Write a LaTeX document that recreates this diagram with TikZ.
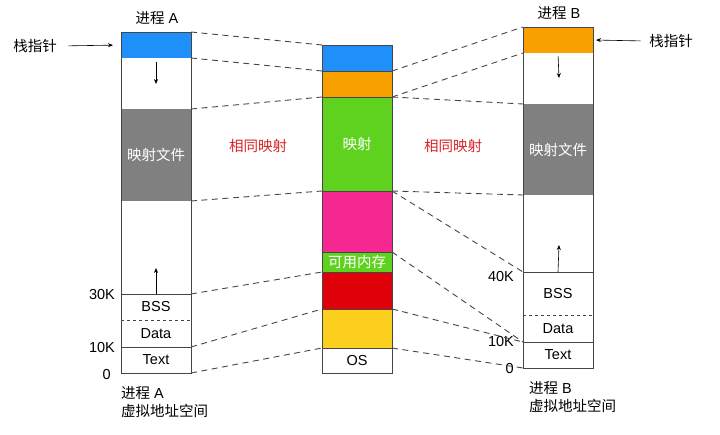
\documentclass[tikz,border=0pt]{standalone}
\usepackage{fontspec}
\setmainfont{Liberation Sans}
\newfontfamily\cjk{Noto Sans CJK SC}
\usetikzlibrary{arrows.meta,positioning,calc}

\definecolor{stkblue}{RGB}{31,144,250}
\definecolor{stkorange}{RGB}{247,160,0}
\definecolor{mapgray}{RGB}{128,128,128}
\definecolor{mapgreen}{RGB}{94,210,30}
\definecolor{mempink}{RGB}{245,40,145}
\definecolor{memred}{RGB}{224,0,10}
\definecolor{memyellow}{RGB}{252,206,30}
\definecolor{samered}{RGB}{215,35,40}
\definecolor{edge}{RGB}{70,70,70}

\begin{document}
\begin{tikzpicture}[x=1pt,y=-1pt,
  font=\fontsize{14.5}{17}\selectfont,
  seg/.style={anchor=north west,minimum width=70pt,inner sep=0pt,outer sep=0pt},
  wseg/.style={seg,text=white},
  box/.style={draw=edge,line width=0.8pt},
  sep/.style={draw=edge,line width=0.6pt},
  map/.style={edge,line width=0.9pt,dash pattern=on 6pt off 4.5pt},
  ar/.style={-{Stealth[length=5pt,width=4pt]},line width=0.6pt},
  addr/.style={anchor=east,inner sep=1pt},
  same/.style={text=samered}]
\useasboundingbox (0,0) rectangle (720,435);

% process A
\node[seg,fill=stkblue,minimum height=26pt] (aStack) at (121,32) {};
\node[seg,minimum height=51pt] (aFree1) at (121,58) {};
\node[wseg,fill=mapgray,minimum height=92pt] (aMap) at (121,109) {\cjk 映射文件};
\node[seg,minimum height=93pt] (aFree2) at (121,201) {};
\node[seg,minimum height=26pt] (aBss) at (121,294) {BSS};
\node[seg,minimum height=27pt] (aData) at (121,320) {Data};
\node[seg,minimum height=26pt] (aText) at (121,347) {Text};
\draw[box] (aStack.north west) rectangle (aText.south east);
\draw[sep] (aBss.north west) -- (aBss.north east);
\draw[sep,dashed] (aData.north west) -- (aData.north east);
\draw[sep] (aText.north west) -- (aText.north east);

% physical memory
\node[seg,fill=stkblue,minimum height=26pt] (mA) at (322,45) {};
\node[seg,fill=stkorange,minimum height=26pt] (mB) at (322,71) {};
\node[wseg,fill=mapgreen,minimum height=94pt] (mMap) at (322,97) {\cjk 映射};
\node[seg,fill=mempink,minimum height=61pt] (mPink) at (322,191) {};
\node[wseg,fill=mapgreen,minimum height=20pt] (mFree) at (322,252) {\cjk 可用内存};
\node[seg,fill=memred,minimum height=37pt] (mRed) at (322,272) {};
\node[seg,fill=memyellow,minimum height=39pt] (mYel) at (322,309) {};
\node[seg,minimum height=25pt] (mOS) at (322,348) {OS};
\draw[box] (mA.north west) rectangle (mOS.south east);
\foreach \s in {mB,mMap,mPink,mFree,mRed,mYel,mOS}
  \draw[sep] (\s.north west) -- (\s.north east);

% process B
\node[seg,fill=stkorange,minimum height=26pt] (bStack) at (523,27) {};
\node[seg,minimum height=51pt] (bFree1) at (523,53) {};
\node[wseg,fill=mapgray,minimum height=91pt] (bMap) at (523,104) {\cjk 映射文件};
\node[seg,minimum height=77pt] (bFree2) at (523,195) {};
\node[seg,minimum height=43pt] (bBss) at (523,272) {BSS};
\node[seg,minimum height=27pt] (bData) at (523,315) {Data};
\node[seg,minimum height=26pt] (bText) at (523,342) {Text};
\draw[box] (bStack.north west) rectangle (bText.south east);
\draw[sep] (bBss.north west) -- (bBss.north east);
\draw[sep,dashed] (bData.north west) -- (bData.north east);
\draw[sep] (bText.north west) -- (bText.north east);

% titles and captions
\node (aTitle) at (157,18) {{\cjk 进程} A};
\node (bTitle) at (559,13) {{\cjk 进程} B};
\node[anchor=north west,align=left,inner sep=0pt,font=\fontsize{14.5}{18}\selectfont] (aCap) at (121,386) {{\cjk 进程} A\\{\cjk 虚拟地址空间}};
\node[anchor=north west,align=left,inner sep=0pt,font=\fontsize{14.5}{18}\selectfont] (bCap) at (529,381) {{\cjk 进程} B\\{\cjk 虚拟地址空间}};
\node[same] (sameA) at (258,146) {\cjk 相同映射};
\node[same] (sameB) at (453,146) {\cjk 相同映射};

% stack pointers
\node (aSp) at (35,46) {\cjk 栈指针};
\node (bSp) at (671,41) {\cjk 栈指针};
\draw[ar,shorten <=8pt,shorten >=8pt] (aSp.east) -- (aStack.west);
\draw[ar,shorten <=5pt,shorten >=3pt] (bSp.west) -- (bStack.east);

% growth arrows
\coordinate (aDown) at (156,84);
\coordinate (aUp) at (156,268);
\coordinate (bDown) at (559,78);
\coordinate (bUp) at (559,245);
\draw[ar,shorten <=4pt] (aFree1.north) -- (aDown);
\draw[ar] (aBss.north) -- (aUp);
\draw[ar,shorten <=3pt] (bFree1.north) -- (bDown);
\draw[ar] (bBss.north) -- (bUp);

% addresses
\node[addr] (a30) at (116,295) {30K};
\node[addr] (a10) at (116,348) {10K};
\node[addr] (a0) at (112,375) {0};
\node[addr] (b40) at (515,277) {40K};
\node[addr] (b10) at (515,342) {10K};
\node[addr] (b0) at (515,369) {0};

% mappings
\draw[map] (aStack.north east) -- (mA.north west);
\draw[map] (aStack.south east) -- (mA.south west);
\draw[map] (aMap.north east) -- (mMap.north west);
\draw[map] (aMap.south east) -- (mMap.south west);
\draw[map] (aBss.north east) -- (mRed.north west);
\draw[map] (aText.north east) -- (mYel.north west);
\draw[map] (aText.south east) -- (mOS.north west);
\draw[map] (mA.south east) -- (bStack.north west);
\draw[map] (mB.south east) -- (bStack.south west);
\draw[map] (mMap.north east) -- (bMap.north west);
\draw[map] (mMap.south east) -- (bMap.south west);
\draw[map] (mPink.north east) -- (bBss.north west);
\draw[map] (mFree.north east) -- (bText.north west);
\draw[map] (mYel.north east) -- (bText.north west);
\draw[map] (mOS.north east) -- (bText.south west);
\end{tikzpicture}
\end{document}
